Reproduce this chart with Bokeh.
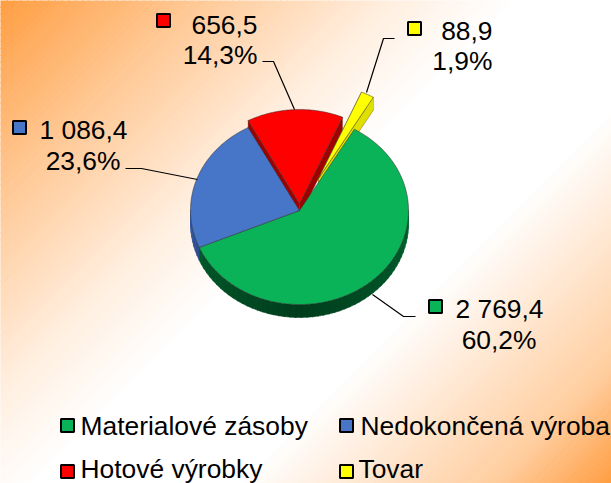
import numpy as np
from bokeh.plotting import figure
from bokeh.core.properties import value
from bokeh.embed import file_html
from bokeh.resources import INLINE

categories = ["Materialové zásoby", "Nedokončená výroba", "Hotové výrobky", "Tovar"]
values = [2769.4, 1086.4, 656.5, 88.9]
value_labels = ["2 769,4", "1 086,4", "656,5", "88,9"]
percent_labels = ["60,2%", "23,6%", "14,3%", "1,9%"]
colors = ["#0AB357", "#4775C7", "#FF0000", "#FFFF00"]
wall_colors = ["#005A2B", "#2F4F8F", "#A00000", "#E0E000"]

W, H = 611, 483
CX, CY, RX, RY, DEPTH = 299, 210, 109, 94, 13
START = 30.2
offsets = [(0, 0), (0, 0), (0, -7), (19, -32)]
FS = value("26.4px")

p = figure(width=W, height=H, x_range=(0, W), y_range=(H, 0), toolbar_location=None,
           output_backend="svg", min_border=0, outline_line_color=None)
p.axis.visible = False
p.grid.visible = False

# background gradient as diagonal bands at 45 degrees
c0 = np.array([255, 158, 66])
grad_t = [0, 0.183, 0.366, 0.47, 0.66, 0.89, 1]
grad_m = [1, 0.55, 0.15, 0, 0, 0.5, 1]
edges = np.linspace(0, 1, 161)
S = W + H
bx, by, bc = [], [], []
for t0, t1 in zip(edges[:-1], edges[1:]):
    m = np.interp((t0 + t1) / 2, grad_t, grad_m)
    r, g, b = (255 + (c0 - 255) * m).astype(int)
    bc.append("#%02x%02x%02x" % (r, g, b))
    a, c = t0 * S, t1 * S
    bx.append([a + S, a - S, c - S, c + S])
    by.append([-S, S, S, -S])
p.patches(bx, by, fill_color=bc, line_color=bc, line_width=1)


def arc(cx, cy, a0, a1, n=80):
    a = np.radians(np.linspace(a0, a1, n))
    return cx + RX * np.sin(a), cy - RY * np.cos(a)


frac = np.array(values) / sum(values) * 360
starts = START + np.concatenate([[0], np.cumsum(frac)[:-1]])
ends = starts + frac


def shade(hexcol, k):
    r, g, b = [int(hexcol[i:i + 2], 16) for i in (1, 3, 5)]
    return "#%02x%02x%02x" % (int(r * k), int(g * k), int(b * k))


# outer wall of the main pie, shaded by angle
wx, wy, wc = [], [], []
for i in (0, 1):
    lo, hi = max(starts[i], 90), min(ends[i], 270)
    segs = np.linspace(lo, hi, int(hi - lo) // 3 + 2)
    for a, b in zip(segs[:-1], segs[1:]):
        x, y = arc(CX, CY, a, b + 0.5, 4)
        wx.append(np.r_[x, x[::-1]])
        wy.append(np.r_[y, y[::-1] + DEPTH])
        mid = (a + b) / 2
        k = 0.68 + 0.42 * abs(mid - 180) / 90
        wc.append(shade(wall_colors[i], min(k, 1.25)))
p.patches(wx, wy, fill_color=wc, line_color=wc, line_width=0.5)

# side walls of the pulled-out slices
for i in (2, 3):
    dx, dy = offsets[i]
    tipx, tipy = CX + dx, CY + dy
    for ang in (starts[i], ends[i]):
        ex, ey = arc(tipx, tipy, ang, ang, 1)
        p.patch([tipx, ex[0], ex[0], tipx], [tipy, ey[0], ey[0] + DEPTH, tipy + DEPTH],
                fill_color=wall_colors[i], line_color="#5a3000", line_width=0.5, line_alpha=0.7)
    x, y = arc(tipx, tipy, starts[i], ends[i])
    if i == 3:
        p.patch(np.r_[x, x[::-1]], np.r_[y, y[::-1] + DEPTH], fill_color=wall_colors[i],
                line_color=None)

# slice faces
for i in range(4):
    dx, dy = offsets[i]
    tipx, tipy = CX + dx, CY + dy
    x, y = arc(tipx, tipy, starts[i], ends[i], 120)
    p.patch(np.r_[tipx, x], np.r_[tipy, y], fill_color=colors[i],
            line_color="#303030", line_width=0.8, line_alpha=0.65)

# leader lines
leaders_x = [[372, 403, 415], [197, 141, 125], [294, 273, 262], [366, 383, 394]]
leaders_y = [[294, 316, 316], [179, 168, 168], [109, 61, 61], [92, 38, 38]]
p.multi_line(leaders_x, leaders_y, line_color="#000000", line_width=1.2)

# data labels: [marker x, marker y, value right x, value y, pct right x, pct y]
lab = [(435, 306, 543, 308, 536, 339), (19, 127, 127, 129, 120, 160),
       (163, 20, 257, 24, 257, 54), (414, 28, 492, 30, 492, 60)]
for i, (mx, my, vx, vy, px, py) in enumerate(lab):
    p.scatter([mx], [my], marker="square", size=13, fill_color=colors[i],
              line_color="#000000", line_width=2)
    p.text([vx], [vy], text=[value_labels[i]], text_align="right", text_baseline="middle",
           text_font=value("Liberation Sans"), text_font_size=FS, text_color="#000000")
    p.text([px], [py], text=[percent_labels[i]], text_align="right", text_baseline="middle",
           text_font=value("Liberation Sans"), text_font_size=FS, text_color="#000000")

# legend: marker x, marker y, text x, text y
leg = [(67, 425, 80, 425), (346, 425, 360, 425), (67, 471, 80, 468), (346, 471, 358, 468)]
for i, (mx, my, tx, ty) in enumerate(leg):
    p.scatter([mx], [my], marker="square", size=13, fill_color=colors[i],
              line_color="#000000", line_width=2)
    p.text([tx], [ty], text=[categories[i]], text_align="left", text_baseline="middle",
           text_font=value("Liberation Sans"), text_font_size=FS, text_color="#000000")

open("out.html", "w").write(file_html(p, INLINE))
